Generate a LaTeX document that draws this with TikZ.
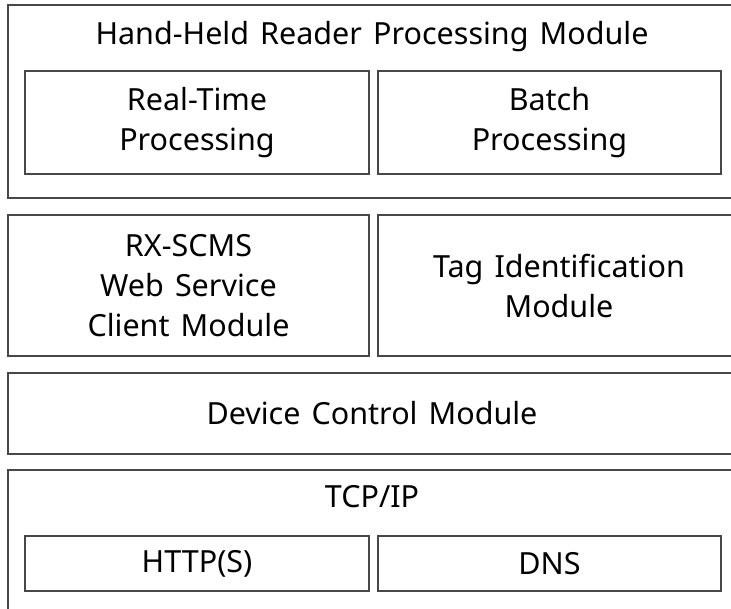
\documentclass[tikz,border=0pt]{standalone}
\usepackage{fontspec}
\setmainfont{Noto Sans}[WordSpace=1.4]
\usetikzlibrary{positioning}
\tikzset{
  outer/.style ={draw=black!72, line width=1.6pt, inner sep=0pt},
  blk/.style   ={draw=black!72, line width=1.6pt, align=center, inner sep=0pt,
                 font=\fontsize{30.5}{40}\selectfont},
  ttl/.style   ={align=center, inner sep=0pt, font=\fontsize{30.5}{40}\selectfont},
}
\begin{document}
\begin{tikzpicture}[x=1pt, y=-1pt]
  \useasboundingbox (0,0) rectangle (731,608);
  \clip (0,0) rectangle (731,608);

  % ---- top layer: hand-held reader processing ----
  \node[outer, minimum width=732pt, minimum height=193pt] (proc) at (374,101.5) {};
  \node[ttl] (proct) at (372,37) {Hand-Held Reader Processing Module};
  \node[blk, minimum width=344pt, minimum height=103pt] (rt) at (197,122.5) {Real-Time\\Processing};
  \node[blk, minimum width=343pt, minimum height=103pt] (batch) at (549.5,122.5) {Batch\\Processing};

  % ---- middle layer ----
  \node[blk, minimum width=361pt, minimum height=141pt] (ws) at (188.5,285.5) {RX-SCMS\\Web Service\\Client Module};
  \node[blk, minimum width=362pt, minimum height=141pt] (tag) at (559,285.5) {Tag Identification\\Module};
  \node[blk, minimum width=732pt, minimum height=81pt] (dev) at (374,413.5) {};
  \node[ttl] (devt) at (372,413.5) {Device Control Module};

  % ---- network layer ----
  \node[outer, minimum width=732pt, minimum height=150pt] (net) at (374,545) {};
  \node[ttl] (nett) at (372,497) {TCP/IP};
  \node[blk, minimum width=344pt, minimum height=55pt] (http) at (197,563.5) {HTTP(S)};
  \node[blk, minimum width=343pt, minimum height=55pt] (dns) at (549.5,563.5) {DNS};
\end{tikzpicture}
\end{document}
